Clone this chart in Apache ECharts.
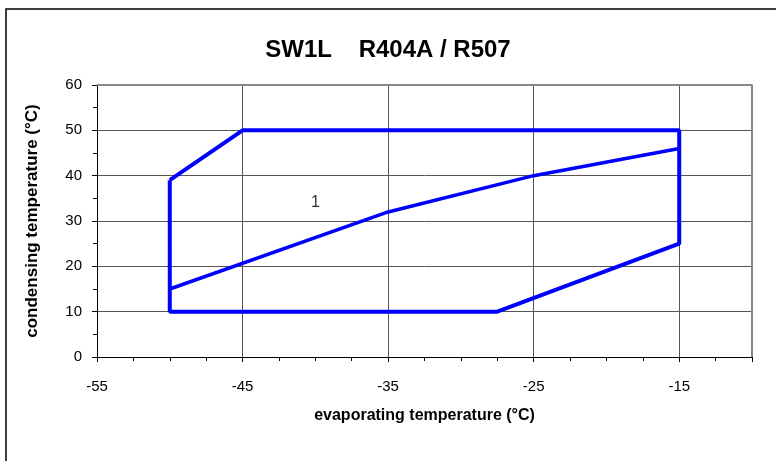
<!DOCTYPE html>
<html><head><meta charset="utf-8">
<script src="https://cdn.jsdelivr.net/npm/echarts@6/dist/echarts.min.js"></script>
<style>html,body{margin:0;padding:0;background:#fff}#c{width:776px;height:461px}</style>
</head><body><div id="c"></div>
<script>
const titleText = 'SW1L    R404A / R507';
const xName = 'evaporating temperature (°C)';
const yName = 'condensing temperature (°C)';
const envelopeX = [-50, -45, -15, -15, -27.5, -50, -50];
const envelopeY = [39, 50, 50, 25, 10, 10, 39];
const dividerX = [-50, -35, -25, -15];
const dividerY = [15, 32, 40, 46];
const zoneLabels = ['1'];
const zoneX = [-40];
const zoneY = [34];

const chart = echarts.init(document.getElementById('c'));
const font = 'Arial, "Liberation Sans", sans-serif';
chart.setOption({
  animation: false,
  backgroundColor: '#fff',
  title: { text: titleText, left: 'center', top: 33, textStyle: { fontFamily: font, fontSize: 24, fontWeight: 'bold', color: '#000' } },
  graphic: [{ type: 'rect', shape: { x: 6, y: 9, width: 900, height: 600 }, style: { fill: 'none', stroke: '#000', lineWidth: 1.5 }, silent: true, z: 100 }],
  grid: { left: 97, right: 24, top: 85, bottom: 104 },
  xAxis: {
    type: 'value', min: -55, max: -10, interval: 10,
    name: xName, nameLocation: 'middle', nameGap: 51,
    nameTextStyle: { fontFamily: font, fontSize: 16, fontWeight: 'bold', color: '#000' },
    axisLine: { onZero: false, lineStyle: { color: '#000', width: 1 } },
    axisTick: { show: true, inside: false, length: 5, lineStyle: { color: '#000' } },
    minorTick: { show: true, splitNumber: 4, length: 4, lineStyle: { color: '#000' } },
    axisLabel: { fontFamily: font, fontSize: 15, color: '#000', margin: 22, formatter: v => (v === -10 ? '' : String(v)) },
    splitLine: { show: true, lineStyle: { color: '#555', width: 1 } }
  },
  yAxis: {
    type: 'value', min: 0, max: 60, interval: 10,
    name: yName, nameLocation: 'middle', nameGap: 56,
    nameTextStyle: { fontFamily: font, fontSize: 17, fontWeight: 'bold', color: '#000' },
    axisLine: { show: true, lineStyle: { color: '#000', width: 1 } },
    axisTick: { show: true, inside: false, length: 5, lineStyle: { color: '#000' } },
    minorTick: { show: true, splitNumber: 2, length: 4, lineStyle: { color: '#000' } },
    axisLabel: { fontFamily: font, fontSize: 15, color: '#000', margin: 15 },
    splitLine: { show: true, lineStyle: { color: '#555', width: 1 } }
  },
  series: [
    { type: 'line', data: envelopeX.map((x, i) => [x, envelopeY[i]]), symbol: 'none', lineStyle: { color: '#0000ff', width: 4 }, z: 5 },
    { type: 'line', data: dividerX.map((x, i) => [x, dividerY[i]]), symbol: 'none', lineStyle: { color: '#0000ff', width: 3.5 }, z: 5 },
    { type: 'scatter', data: zoneX.map((x, i) => ({ value: [x, zoneY[i]], name: zoneLabels[i] })), symbolSize: 0,
      label: { show: true, position: 'inside', formatter: p => p.name, fontFamily: font, fontSize: 16, color: '#000' }, z: 6 },
    { type: 'line', data: [[-55, 60], [-10, 60], [-10, 0]], symbol: 'none', lineStyle: { color: '#888', width: 2 }, z: 3, silent: true }
  ]
});
</script></body></html>
